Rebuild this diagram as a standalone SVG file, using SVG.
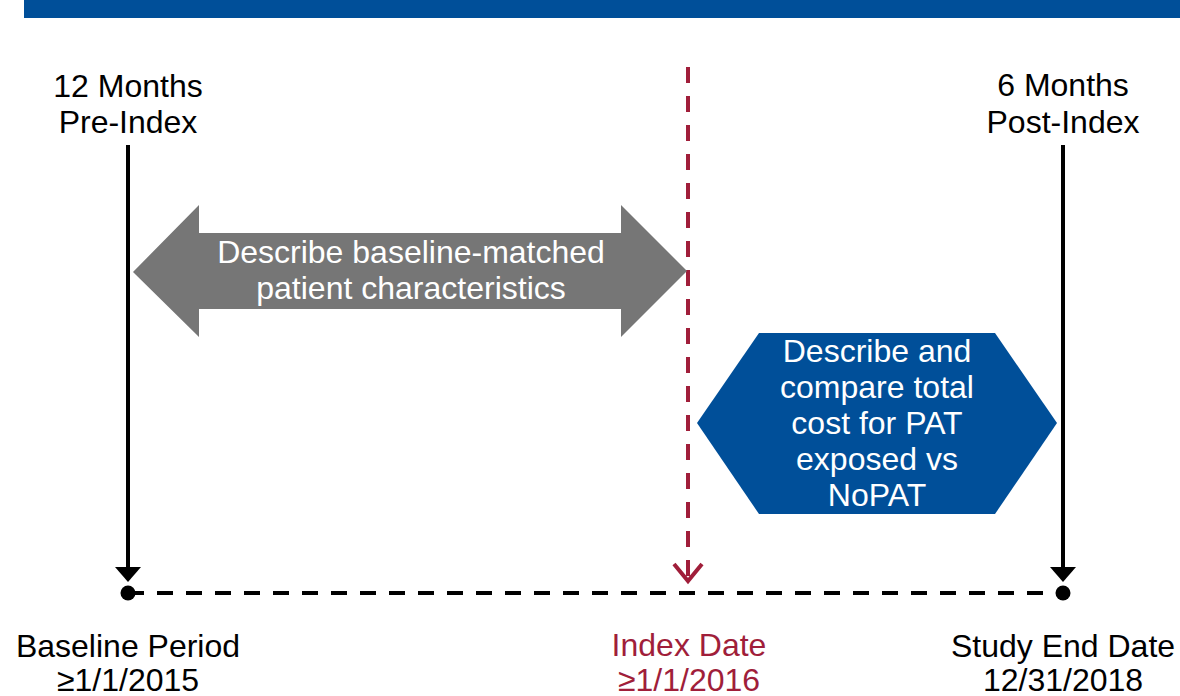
<svg xmlns="http://www.w3.org/2000/svg" width="1180" height="696" viewBox="0 0 1180 696">
  <defs>
    <style>
      text { font-family: "Liberation Sans", Arial, sans-serif; font-size: 32px; text-anchor: middle; }
      .dark { fill: #000000; }
      .light { fill: #ffffff; }
      .index { fill: #a01e3a; }
      .timeline { stroke: #000000; stroke-width: 4; fill: none; }
      .dash { stroke: #000000; stroke-width: 4; stroke-dasharray: 16 13; fill: none; }
      .redline { stroke: #a01e3a; stroke-width: 4; stroke-dasharray: 16 13; fill: none; }
    </style>
  </defs>

  <!-- header band -->
  <rect x="24" y="0" width="1156" height="18" fill="#004f99"/>

  <!-- connectors: timeline axis, period markers and index line -->
  <g id="connectors">
    <line class="dash" x1="128" y1="593" x2="1063" y2="593"/>
    <line class="timeline" x1="128" y1="145" x2="128" y2="568"/>
    <path d="M115,567 L141,567 L128,582 Z" fill="#000000"/>
    <line class="timeline" x1="1063" y1="145" x2="1063" y2="568"/>
    <path d="M1050,567 L1076,567 L1063,582 Z" fill="#000000"/>
    <circle cx="128" cy="593" r="7.5" fill="#000000"/>
    <circle cx="1063" cy="593" r="7.5" fill="#000000"/>
    <line class="redline" x1="688" y1="67" x2="688" y2="580"/>
    <polyline points="674,564 688,581 702,564" fill="none" stroke="#a01e3a" stroke-width="4"/>
  </g>

  <g id="pre-index-label">
    <text class="dark" x="128" y="97">12 Months</text>
    <text class="dark" x="128" y="133">Pre-Index</text>
  </g>

  <g id="post-index-label">
    <text class="dark" x="1063" y="96">6 Months</text>
    <text class="dark" x="1063" y="133">Post-Index</text>
  </g>

  <g id="baseline-arrow">
    <polygon points="133,272 199,205 199,233 621,233 621,205 687,271 621,337 621,309 199,309 199,337" fill="#767676"/>
    <text class="light" x="411" y="263">Describe baseline-matched</text>
    <text class="light" x="411" y="299">patient characteristics</text>
  </g>

  <g id="cost-hexagon">
    <polygon points="697,423 759,333 995,333 1057,423 995,514 759,514" fill="#004f99"/>
    <text class="light" x="877" y="362">Describe and</text>
    <text class="light" x="877" y="398">compare total</text>
    <text class="light" x="877" y="434">cost for PAT</text>
    <text class="light" x="877" y="470">exposed vs</text>
    <text class="light" x="877" y="506">NoPAT</text>
  </g>

  <g id="baseline-period">
    <text class="dark" x="128" y="657">Baseline Period</text>
    <text class="dark" x="128" y="691">≥1/1/2015</text>
  </g>

  <g id="index-date">
    <text class="index" x="689" y="656">Index Date</text>
    <text class="index" x="689" y="691">≥1/1/2016</text>
  </g>

  <g id="study-end">
    <text class="dark" x="1063" y="657">Study End Date</text>
    <text class="dark" x="1063" y="691">12/31/2018</text>
  </g>
</svg>
